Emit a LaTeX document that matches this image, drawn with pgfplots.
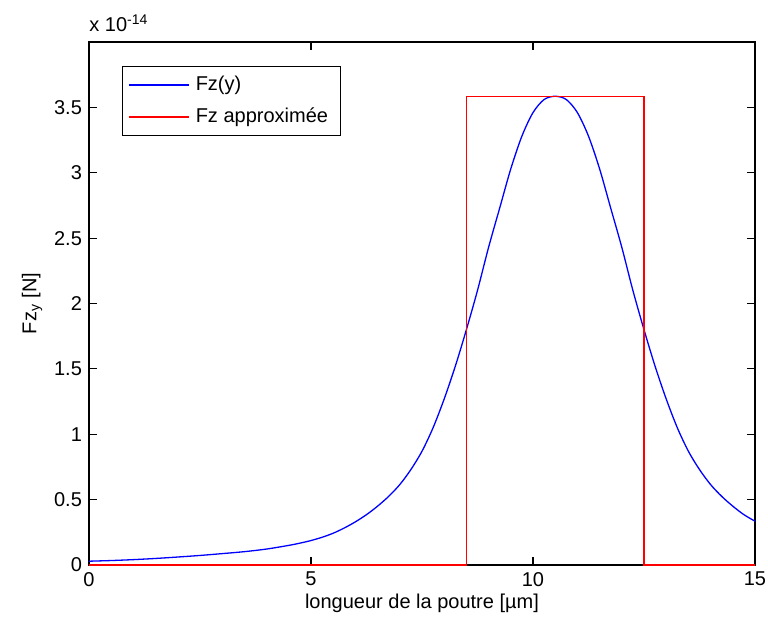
\documentclass[border=0pt]{standalone}
\usepackage{fontspec}
\setmainfont{Liberation Sans}
\usepackage{pgfplots}
\pgfplotsset{compat=1.18}
\pgfplotsset{
  legend image code/.code={\draw[#1, line width=0.7pt] (2pt,0pt) -- (32pt,0pt);}
}
\begin{document}
\begin{tikzpicture}[x=1pt,y=1pt]
\useasboundingbox (0,0) rectangle (384,313);
\fill[white] (0,0) rectangle (384,313);
\begin{axis}[
  scale only axis, width=333pt, height=261.5pt,
  at={(44.5pt,30.5pt)}, anchor=south west,
  xmin=0, xmax=15, ymin=0, ymax=4,
  xtick={0,5,10,15},
  ytick={0,0.5,1,1.5,2,2.5,3,3.5},
  yticklabels={0,0.5,1,1.5,2,2.5,3,3.5},
  tick align=inside, major tick length=4pt,
  axis line style={black, line width=0.6pt},
  tick style={black, line width=0.6pt},
  /pgf/number format/assume math mode=true,
  ticklabel style={font=\fontsize{10}{12}\selectfont},
  label style={font=\fontsize{10}{12}\selectfont},
  xlabel={longueur de la poutre [µm]},
  ylabel={Fz\textsubscript{y} [N]},
  xlabel style={yshift=3pt},
  ylabel style={yshift=-1pt},
  clip=false,
  legend cell align=left,
  legend style={at={(0.0495,0.954)}, anchor=north west,
    font=\fontsize{10}{12}\selectfont, inner xsep=3pt, inner ysep=3pt,
    row sep=3pt, nodes={inner xsep=3pt}},
]
\addplot[color=blue, line width=0.65pt, smooth, tension=0.5] coordinates {
(0,0.029) (0.5,0.034) (1.0,0.041) (1.5,0.050) (2.0,0.061) (2.5,0.073) (3.0,0.087)
(3.5,0.102) (4.0,0.122) (4.5,0.150) (4.75,0.167) (5.0,0.187) (5.25,0.212) (5.5,0.243)
(5.75,0.283) (6.0,0.33) (6.25,0.385) (6.5,0.45) (6.75,0.525) (7.0,0.615) (7.25,0.73)
(7.5,0.87) (7.75,1.05) (8.0,1.27) (8.25,1.52) (8.5,1.80) (8.75,2.10)
(9.0,2.43) (9.25,2.73) (9.5,3.03) (9.75,3.28) (10.0,3.46) (10.25,3.56) (10.5,3.585)
(10.75,3.56) (11.0,3.46) (11.25,3.28) (11.5,3.03) (11.75,2.73) (12.0,2.43)
(12.25,2.10) (12.5,1.80) (12.75,1.52) (13.0,1.27) (13.25,1.05) (13.5,0.87) (13.75,0.73)
(14.0,0.615) (14.25,0.525) (14.5,0.45) (14.75,0.385) (15.0,0.335)
};
\addlegendentry{Fz(y)}
\addplot[color=red, line width=0.6pt] coordinates {
(0,0) (8.5,0) (8.5,3.585) (12.5,3.585) (12.5,0) (15,0)
};
\addlegendentry{Fz approximée}
\node[anchor=base west, font=\fontsize{10}{12}\selectfont, inner sep=0pt] at (rel axis cs:0,1) [yshift=5pt] {x 10\textsuperscript{-14}};
\end{axis}
\end{tikzpicture}
\end{document}
